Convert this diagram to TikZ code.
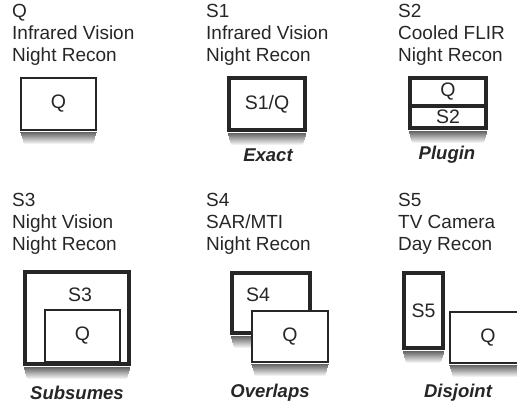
\documentclass[tikz,border=0pt]{standalone}
\usepackage{fontspec}
\setmainfont{Liberation Sans}
\usetikzlibrary{positioning,calc}
\newcommand{\headfont}{\fontsize{19}{22}\selectfont}
\newcommand{\boxfont}{\fontsize{19.5}{22}\selectfont}
\newcommand{\kindfont}{\fontsize{18.5}{22}\selectfont\bfseries\itshape}
% soft shadow under a box node: #1 node, #2 half line width
\newcommand{\boxshadow}[2]{%
  \foreach \dd in {12,11,...,1}{
    \pgfmathtruncatemacro{\cc}{66-5*\dd}
    \fill[black!\cc]
      ($(#1.south west)+(0.3*\dd,-#2)$) rectangle ($(#1.south east)+(-0.3*\dd,-#2-\dd)$);
  }}
\tikzset{
  flat/.style  = {draw=black!85, line width=1.8pt, fill=white, inner sep=0pt,
                  font=\boxfont, text=black!85},
  qbox/.style  = {flat},
  sbox/.style  = {flat, line width=3.4pt},
  head/.style  = {anchor=north west, align=left, inner sep=0pt,
                  font=\headfont, text=black!85},
  kind/.style  = {font=\kindfont, text=black!85, inner sep=0pt},
  tag/.style   = {font=\boxfont, text=black!85, inner sep=0pt},
}
\begin{document}
\begin{tikzpicture}[x=1pt, y=1pt]
  \useasboundingbox (0,0) rectangle (517,-410);
  % top row
  \node[head] (hq) at (12,-4) {Q\\Infrared Vision\\Night Recon};
  \node[head] (hs1) at (206,-4) {S1\\Infrared Vision\\Night Recon};
  \node[head] (hs2) at (398,-4) {S2\\Cooled FLIR\\Night Recon};
  \node[qbox, minimum width=75pt, minimum height=52pt] (q) at (58.5,-104) {Q};
  \boxshadow{q}{0.9}
  \node[sbox, minimum width=76pt, minimum height=52pt] (s1) at (267,-104) {S1/Q};
  \boxshadow{s1}{1.7}
  \node[kind] (exact) at (268,-155) {Exact};
  \node[sbox, minimum width=76pt, minimum height=28pt] (s2q) at (448,-92) {Q};
  \node[sbox, minimum width=76pt, minimum height=22pt] (s2) at (448,-117) {S2};
  \boxshadow{s2}{1.7}
  \node[kind] (plugin) at (447,-155) {Plugin};
  % bottom row
  \node[head] (hs3) at (12,-193) {S3\\Night Vision\\Night Recon};
  \node[head] (hs4) at (206,-193) {S4\\SAR/MTI\\Night Recon};
  \node[head] (hs5) at (398,-193) {S5\\TV Camera\\Day Recon};
  \node[sbox, minimum width=104pt, minimum height=92pt] (s3) at (77,-318) {};
  \boxshadow{s3}{1.7}
  \node[tag] (s3txt) at (80,-295) {S3};
  \node[flat, minimum width=75pt, minimum height=52pt] (s3q) at (82.5,-336) {Q};
  \node[kind] (subsumes) at (77,-393) {Subsumes};
  \node[sbox, minimum width=78pt, minimum height=60pt] (s4) at (271,-303) {};
  \boxshadow{s4}{1.7}
  \node[tag] (s4txt) at (258,-295) {S4};
  \node[qbox, minimum width=76pt, minimum height=51pt] (s4q) at (290,-336.5) {Q};
  \boxshadow{s4q}{0.9}
  \node[kind] (overlaps) at (270,-393) {Overlaps};
  \node[sbox, minimum width=39pt, minimum height=75pt] (s5) at (423.5,-310.5) {S5};
  \boxshadow{s5}{1.7}
  \node[qbox, minimum width=76pt, minimum height=51pt] (s5q) at (488,-337.5) {Q};
  \boxshadow{s5q}{0.9}
  \node[kind] (disjoint) at (458,-393) {Disjoint};
\end{tikzpicture}
\end{document}
